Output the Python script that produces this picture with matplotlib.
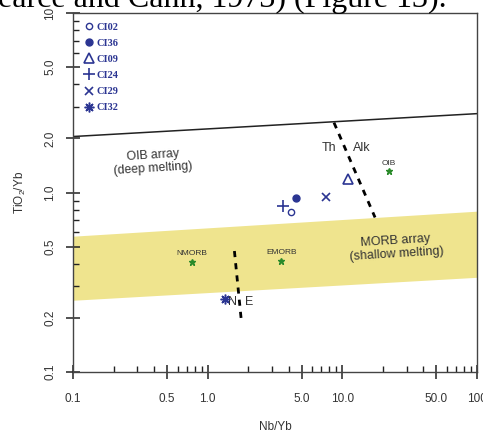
import matplotlib
matplotlib.use("Agg")
import matplotlib.pyplot as plt
from matplotlib.ticker import LogLocator, FixedLocator, FixedFormatter, NullFormatter

# sample data (Nb/Yb vs TiO2/Yb)
samples = ['CI02', 'CI36', 'CI09', 'CI24', 'CI29', 'CI32']
nb_yb = [4.13, 4.52, 11.1, 3.64, 7.55, 1.34]
tio2_yb = [0.78, 0.93, 1.19, 0.84, 0.946, 0.254]

# reference compositions
ref_names = ['NMORB', 'EMORB', 'OIB']
ref_nb = [0.765, 3.52, 22.3]
ref_ti = [0.412, 0.417, 1.31]

# field boundaries
bound_x = [0.1, 100]
oib_upper = [2.05, 2.75]
morb_upper = [0.571, 0.787]
morb_lower = [0.251, 0.337]
th_alk_x = [8.67, 17.5]
th_alk_y = [2.45, 0.726]
n_e_x = [1.58, 1.77]
n_e_y = [0.472, 0.2]

x_ticks = [0.1, 0.5, 1.0, 5.0, 10.0, 50.0, 100]
x_labels = ['0.1', '0.5', '1.0', '5.0', '10.0', '50.0', '100']
y_ticks = [0.1, 0.2, 0.5, 1.0, 2.0, 5.0, 10]
y_labels = ['0.1', '0.2', '0.5', '1.0', '2.0', '5.0', '10']

plt.rcParams['font.family'] = ['Liberation Sans', 'DejaVu Sans']

W, H = 483, 432
fig = plt.figure(figsize=(W / 100, H / 100), dpi=100)
ax = fig.add_axes([73 / W, 1 - 372 / H, 404 / W, 359 / H])

navy = '#2b3592'
green = '#2a8a2a'
ink = '#333333'

ax.set_xscale('log')
ax.set_yscale('log')
ax.set_xlim(0.1, 100)
ax.set_ylim(0.1, 10)

# fields
ax.fill_between(bound_x, morb_lower, morb_upper, color='#efe48e', lw=0, zorder=1)
ax.plot(bound_x, oib_upper, color='#222222', lw=1.1, zorder=2)
ax.plot(th_alk_x, th_alk_y, color='black', lw=2.0, ls=(0, (2.2, 2.2)), zorder=2)
ax.plot(n_e_x, n_e_y, color='black', lw=2.0, ls=(0, (2.2, 2.2)), zorder=2)

# samples
styles = [
    dict(marker='o', mfc='none', ms=4.5, mew=1.0),
    dict(marker='o', mfc=navy, ms=5, mew=1.0),
    dict(marker='^', mfc='none', ms=6.5, mew=1.2),
    dict(marker='+', ms=8, mew=1.2),
    dict(marker='x', ms=5.5, mew=1.2),
    dict(marker=(8, 2, 0), ms=7, mew=1.1),
]
for name, xv, yv, st in zip(samples, nb_yb, tio2_yb, styles):
    ax.plot([xv], [yv], ls='none', color=navy, mec=navy, label=name, zorder=4, **st)

# reference points
ax.plot(ref_nb, ref_ti, ls='none', marker='*', color=green, ms=5, zorder=4)
for name, xv, yv in zip(ref_names, ref_nb, ref_ti):
    ax.annotate(name, (xv, yv), xytext=(0, 3.5), textcoords='offset points',
                ha='center', va='bottom', fontsize=6, color=ink)

# field labels
ax.text(0.393, 1.486, 'OIB array\n(deep melting)', ha='center', va='center',
        fontsize=8.8, color=ink, rotation=3.5, linespacing=1.15)
ax.text(25.0, 0.495, 'MORB array\n(shallow melting)', ha='center', va='center',
        fontsize=9, color=ink, rotation=3.5, linespacing=1.15)
ax.text(7.95, 1.78, 'Th', ha='center', va='center', fontsize=9, color=ink)
ax.text(14.0, 1.78, 'Alk', ha='center', va='center', fontsize=9, color=ink)
ax.text(1.53, 0.244, 'N', ha='center', va='center', fontsize=9, color=ink)
ax.text(2.04, 0.244, 'E', ha='center', va='center', fontsize=9, color=ink)

# axes styling
for sp in ax.spines.values():
    sp.set_color('#444444')
    sp.set_linewidth(1.0)

ax.xaxis.set_major_locator(FixedLocator(x_ticks))
ax.xaxis.set_major_formatter(FixedFormatter(x_labels))
ax.yaxis.set_major_locator(FixedLocator(y_ticks))
ax.yaxis.set_major_formatter(FixedFormatter(y_labels))
ax.xaxis.set_minor_locator(LogLocator(base=10, subs=range(2, 10)))
ax.yaxis.set_minor_locator(LogLocator(base=10, subs=range(2, 10)))
ax.xaxis.set_minor_formatter(NullFormatter())
ax.yaxis.set_minor_formatter(NullFormatter())

ax.tick_params(which='major', direction='inout', length=10, width=1.1, color='#222222',
               labelsize=8.5, labelcolor=ink)
ax.tick_params(which='minor', direction='in', length=4, width=1.0, color='#222222')
ax.tick_params(axis='x', which='major', pad=10)
ax.tick_params(axis='y', which='major', pad=7)
for lab in ax.get_yticklabels():
    lab.set_rotation(90)
    lab.set_va('center')

ax.set_xlabel('Nb/Yb', fontsize=8.5, color=ink, labelpad=12)
ax.set_ylabel(r'TiO$_\mathregular{2}$/Yb', fontsize=8.5, color=ink, labelpad=12)

leg = ax.legend(loc='upper left', bbox_to_anchor=(0.029, 0.974), frameon=False,
                handlelength=0.8, handletextpad=0.37, labelspacing=0.66,
                borderaxespad=0, borderpad=0,
                prop={'family': 'Liberation Serif', 'weight': 'bold', 'size': 7.5})
for t in leg.get_texts():
    t.set_color(navy)

# caption text cut at the top of the page
fig.text(447 / W, 1 - 7.5 / H, 'earce and Cann, 1973) (Figure 13).',
         family='Liberation Serif', fontsize=23, va='baseline', ha='right', color='black')

fig.savefig('out.png', dpi=100)
